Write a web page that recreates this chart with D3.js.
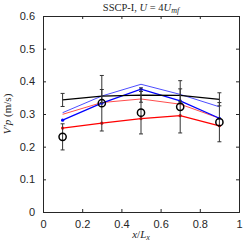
<!DOCTYPE html>
<html>
<head>
<meta charset="utf-8">
<script src="https://cdn.jsdelivr.net/npm/d3@7"></script>
<style>
  body { margin: 0; background: #fff; }
  svg text { fill: #262626; }
</style>
</head>
<body>
<div id="chart"></div>
<script>
// data
var xPos = [0.1, 0.3, 0.5, 0.7, 0.9];
var expVals = [0.230, 0.333, 0.304, 0.322, 0.275];
var expErr = [0.040, 0.085, 0.065, 0.080, 0.060];
var blackVals = [0.343, 0.355, 0.358, 0.357, 0.345];
var blackErr = [0.020, 0.020, 0.022, 0.020, 0.020];
var blueThin = [0.304, 0.355, 0.391, 0.360, 0.322];
var blueThick = [0.281, 0.333, 0.376, 0.340, 0.287];
var redThin = [0.299, 0.335, 0.346, 0.330, 0.287];
var redThick = [0.257, 0.272, 0.286, 0.295, 0.264];
var xTicks = [0, 0.2, 0.4, 0.6, 0.8, 1];
var yTicks = [0, 0.1, 0.2, 0.3, 0.4, 0.5, 0.6];

var margin = {top: 16, right: 4, bottom: 37, left: 43},
    width = 243 - margin.left - margin.right,
    height = 249 - margin.top - margin.bottom;

var svg = d3.select("#chart").append("svg")
    .attr("width", 243)
    .attr("height", 249)
  .append("g")
    .attr("transform", "translate(" + margin.left + "," + margin.top + ")");

var x = d3.scaleLinear().domain([0, 1]).range([0, width]);
var y = d3.scaleLinear().domain([0, 0.6]).range([height, 0]);

var tickFont = "Liberation Sans, Arial, sans-serif";
var axisCol = "#262626";

// axes with inward ticks on all four sides
function styleAxis(g) {
  g.select(".domain").attr("stroke", axisCol);
  g.selectAll(".tick line").attr("stroke", axisCol);
  g.selectAll("text").style("font-family", tickFont).style("font-size", "11px").attr("fill", axisCol);
}
svg.append("g")
    .attr("transform", "translate(0," + height + ")")
    .call(d3.axisBottom(x).tickValues(xTicks).tickSize(-3).tickPadding(8).tickFormat(d3.format("")))
    .call(styleAxis);
svg.append("g")
    .call(d3.axisLeft(y).tickValues(yTicks).tickSize(-3).tickPadding(8).tickFormat(d3.format("")))
    .call(styleAxis);
svg.append("g")
    .call(d3.axisTop(x).tickValues(xTicks).tickSize(-3).tickFormat(""))
    .call(styleAxis);
svg.append("g")
    .attr("transform", "translate(" + width + ",0)")
    .call(d3.axisRight(y).tickValues(yTicks).tickSize(-3).tickFormat(""))
    .call(styleAxis);

var line = d3.line()
    .x(function(d, i) { return x(xPos[i]); })
    .y(function(d) { return y(d); });

function drawLine(vals, col, w, dots) {
  svg.append("path")
      .datum(vals)
      .attr("fill", "none")
      .attr("stroke", col)
      .attr("stroke-width", w)
      .attr("d", line);
  if (dots) {
    svg.selectAll(null)
        .data(vals)
        .enter()
        .append("circle")
        .attr("cx", function(d, i) { return x(xPos[i]); })
        .attr("cy", function(d) { return y(d); })
        .attr("r", 1.6)
        .attr("fill", col);
  }
}

drawLine(redThin, "#ff0000", 0.7, false);
drawLine(blueThin, "#0000ff", 0.7, false);
drawLine(redThick, "#ff0000", 1.3, true);
drawLine(blueThick, "#0000ff", 1.3, true);
drawLine(blackVals, "#000000", 1.3, false);

function errorBars(vals, errs) {
  var g = svg.append("g").attr("stroke", "#333").attr("stroke-width", 1);
  vals.forEach(function(v, i) {
    var cx = x(xPos[i]);
    g.append("line")
        .attr("x1", cx).attr("x2", cx)
        .attr("y1", y(v - errs[i])).attr("y2", y(v + errs[i]));
    [v - errs[i], v + errs[i]].forEach(function(e) {
      g.append("line")
          .attr("x1", cx - 2).attr("x2", cx + 2)
          .attr("y1", y(e)).attr("y2", y(e));
    });
  });
}
errorBars(blackVals, blackErr);
errorBars(expVals, expErr);

svg.selectAll(null)
    .data(expVals)
    .enter()
    .append("circle")
    .attr("cx", function(d, i) { return x(xPos[i]); })
    .attr("cy", function(d) { return y(d); })
    .attr("r", 3.6)
    .attr("fill", "none")
    .attr("stroke", "#000")
    .attr("stroke-width", 1.5);

// labels
var title = svg.append("text")
    .attr("x", width / 2)
    .attr("y", -5)
    .attr("text-anchor", "middle")
    .style("font-family", "Liberation Serif, serif")
    .style("font-size", "10.5px");
title.append("tspan").text("SSCP-I, ");
title.append("tspan").style("font-style", "italic").text("U");
title.append("tspan").text(" = 4");
title.append("tspan").style("font-style", "italic").text("U");
title.append("tspan").style("font-style", "italic").style("font-size", "8px").attr("dy", 2).text("mf");

var xl = svg.append("text")
    .attr("x", width / 2)
    .attr("y", height + 26)
    .attr("text-anchor", "middle")
    .style("font-family", "Liberation Serif, serif")
    .style("font-size", "11px");
xl.append("tspan").style("font-style", "italic").text("x");
xl.append("tspan").text("/");
xl.append("tspan").style("font-style", "italic").text("L");
xl.append("tspan").style("font-style", "italic").style("font-size", "8px").attr("dy", 2).text("x");

var yl = svg.append("text")
    .attr("transform", "translate(-32," + (height / 2) + ") rotate(-90)")
    .attr("text-anchor", "middle")
    .style("font-family", "Liberation Serif, serif")
    .style("font-size", "11px");
yl.append("tspan").style("font-style", "italic").text("V′p");
yl.append("tspan").text(" (m/s)");
</script>
</body>
</html>
